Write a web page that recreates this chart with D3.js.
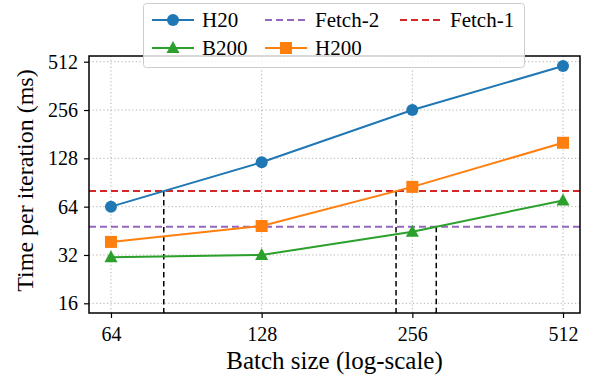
<!DOCTYPE html>
<html lang="en">
  <head>
    <meta charset="UTF-8">
    <title>Time per iteration</title>
    <script src="https://d3js.org/d3.v7.min.js"></script>
    <style>
      body { margin: 0; background: #fff; }
      .grid line { stroke: #b0b0b0; stroke-dasharray: 1.2 2.4; stroke-width: 1; }
    </style>
  </head>
  <body>
    <svg id="chart" width="590" height="376"></svg>
    <script>
      // data
      const batchSizes = [64, 128, 256, 512]
      const h20 = [64, 121, 256, 481]
      const b200 = [31, 32, 44.7, 70]
      const h200 = [38.6, 48.5, 85, 160]
      const fetch1 = 80
      const fetch2 = 48
      const xTicks = [64, 128, 256, 512]
      const yTicks = [16, 32, 64, 128, 256, 512]

      const series = [
        { name: "H20", values: h20, color: "#1f77b4", marker: "circle" },
        { name: "B200", values: b200, color: "#2ca02c", marker: "triangle" },
        { name: "H200", values: h200, color: "#ff7f0e", marker: "square" }
      ]
      const fetches = [
        { name: "Fetch-2", value: fetch2, color: "#9467bd" },
        { name: "Fetch-1", value: fetch1, color: "#d62728" }
      ]
      // which series meets which fetch line (marked with a black dashed drop)
      const crossings = [["H20", "Fetch-1"], ["H200", "Fetch-1"], ["B200", "Fetch-2"]]

      const FONT = "'Liberation Serif', 'Times New Roman', serif"
      const plot = { left: 89, right: 580, top: 56, bottom: 313 }
      const svg = d3.select("#chart")

      const x = d3.scaleLog().base(2)
        .domain([64 / Math.pow(2, 22 / 150.8), 512 * Math.pow(2, 17 / 150.8)])
        .range([plot.left, plot.right])
      const y = d3.scaleLog().base(2)
        .domain([16 / Math.pow(2, 9.7 / 48.3), 512 * Math.pow(2, 5.7 / 48.3)])
        .range([plot.bottom, plot.top])

      // grid
      svg.append("g").attr("class", "grid")
        .selectAll("line").data(xTicks).join("line")
        .attr("x1", d => x(d)).attr("x2", d => x(d))
        .attr("y1", plot.top).attr("y2", plot.bottom)
      svg.append("g").attr("class", "grid")
        .selectAll("line").data(yTicks).join("line")
        .attr("x1", plot.left).attr("x2", plot.right)
        .attr("y1", d => y(d)).attr("y2", d => y(d))

      // axes
      const xAxis = svg.append("g").attr("transform", `translate(0,${plot.bottom})`)
        .call(d3.axisBottom(x).tickValues(xTicks).tickFormat(d3.format("d")).tickSize(5).tickPadding(6))
      const yAxis = svg.append("g").attr("transform", `translate(${plot.left},0)`)
        .call(d3.axisLeft(y).tickValues(yTicks).tickFormat(d3.format("d")).tickSize(5).tickPadding(6))
      for (const ax of [xAxis, yAxis]) {
        ax.select(".domain").remove()
        ax.selectAll(".tick line").attr("stroke", "#000").attr("stroke-width", 1.2)
        ax.selectAll(".tick text").style("font-family", FONT).style("font-size", "20px").attr("fill", "#000")
      }
      xAxis.selectAll(".tick text").attr("dy", "0.85em")
      yAxis.selectAll(".tick text").attr("dy", "0.33em")

      // fetch lines
      svg.append("g").selectAll("line").data(fetches).join("line")
        .attr("x1", plot.left).attr("x2", plot.right)
        .attr("y1", d => y(d.value)).attr("y2", d => y(d.value))
        .attr("stroke", d => d.color).attr("stroke-width", 2)
        .attr("stroke-dasharray", "7 4")

      // black drops where a series crosses its fetch line
      const drops = crossings.map(([sName, fName]) => {
        const s = series.find(d => d.name === sName)
        const f = fetches.find(d => d.name === fName)
        for (let i = 0; i < batchSizes.length - 1; i++) {
          const a = s.values[i], b = s.values[i + 1]
          if ((a - f.value) * (b - f.value) <= 0) {
            const t = Math.log2(f.value / a) / Math.log2(b / a)
            const bx = batchSizes[i] * Math.pow(2, t * Math.log2(batchSizes[i + 1] / batchSizes[i]))
            return { bx, v: f.value }
          }
        }
        return null
      }).filter(d => d)
      svg.append("g").selectAll("line").data(drops).join("line")
        .attr("x1", d => x(d.bx)).attr("x2", d => x(d.bx))
        .attr("y1", d => y(d.v)).attr("y2", plot.bottom)
        .attr("stroke", "#000").attr("stroke-width", 1.5)
        .attr("stroke-dasharray", "5.5 3.5")

      // series lines and markers
      const line = d3.line().x((d, i) => x(batchSizes[i])).y(d => y(d))
      const drawMarker = (g, kind, color, cx, cy) => {
        if (kind === "circle") g.append("circle").attr("cx", cx).attr("cy", cy).attr("r", 6).attr("fill", color)
        if (kind === "square") g.append("rect").attr("x", cx - 6).attr("y", cy - 6).attr("width", 12).attr("height", 12).attr("fill", color)
        if (kind === "triangle") g.append("path").attr("d", `M${cx},${cy - 7}L${cx + 6.5},${cy + 5}L${cx - 6.5},${cy + 5}Z`).attr("fill", color)
      }
      for (const s of series) {
        const g = svg.append("g")
        g.append("path").attr("d", line(s.values)).attr("fill", "none")
          .attr("stroke", s.color).attr("stroke-width", 2)
        s.values.forEach((v, i) => drawMarker(g, s.marker, s.color, x(batchSizes[i]), y(v)))
      }

      // frame
      svg.append("rect").attr("x", plot.left).attr("y", plot.top)
        .attr("width", plot.right - plot.left).attr("height", plot.bottom - plot.top)
        .attr("fill", "none").attr("stroke", "#000").attr("stroke-width", 1.5)

      // axis titles
      svg.append("text").attr("x", (plot.left + plot.right) / 2).attr("y", 369)
        .attr("text-anchor", "middle").style("font-family", FONT).style("font-size", "25px")
        .text("Batch size (log-scale)")
      svg.append("text").attr("transform", `translate(33,${(plot.top + plot.bottom) / 2 - 4}) rotate(-90)`)
        .attr("text-anchor", "middle").style("font-family", FONT).style("font-size", "24px")
        .text("Time per iteration (ms)")

      // legend
      const legend = svg.append("g")
      legend.append("rect").attr("x", 143.5).attr("y", 3.5).attr("width", 381).attr("height", 64)
        .attr("rx", 3).attr("fill", "#fff").attr("fill-opacity", 0.8).attr("stroke", "#ccc")
      const items = [
        { name: "H20", color: "#1f77b4", marker: "circle", lx: 152, ly: 20, dash: null },
        { name: "Fetch-2", color: "#9467bd", marker: null, lx: 265, ly: 20, dash: "7 4" },
        { name: "Fetch-1", color: "#d62728", marker: null, lx: 400, ly: 20, dash: "7 4" },
        { name: "B200", color: "#2ca02c", marker: "triangle", lx: 152, ly: 48, dash: null },
        { name: "H200", color: "#ff7f0e", marker: "square", lx: 265, ly: 48, dash: null }
      ]
      for (const it of items) {
        const g = legend.append("g")
        g.append("line").attr("x1", it.lx).attr("x2", it.lx + 42).attr("y1", it.ly).attr("y2", it.ly)
          .attr("stroke", it.color).attr("stroke-width", 2).attr("stroke-dasharray", it.dash)
        if (it.marker) drawMarker(g, it.marker, it.color, it.lx + 21, it.ly)
        g.append("text").attr("x", it.lx + 50).attr("y", it.ly).attr("dy", "0.35em")
          .style("font-family", FONT).style("font-size", "21px").text(it.name)
      }
    </script>
  </body>
</html>
